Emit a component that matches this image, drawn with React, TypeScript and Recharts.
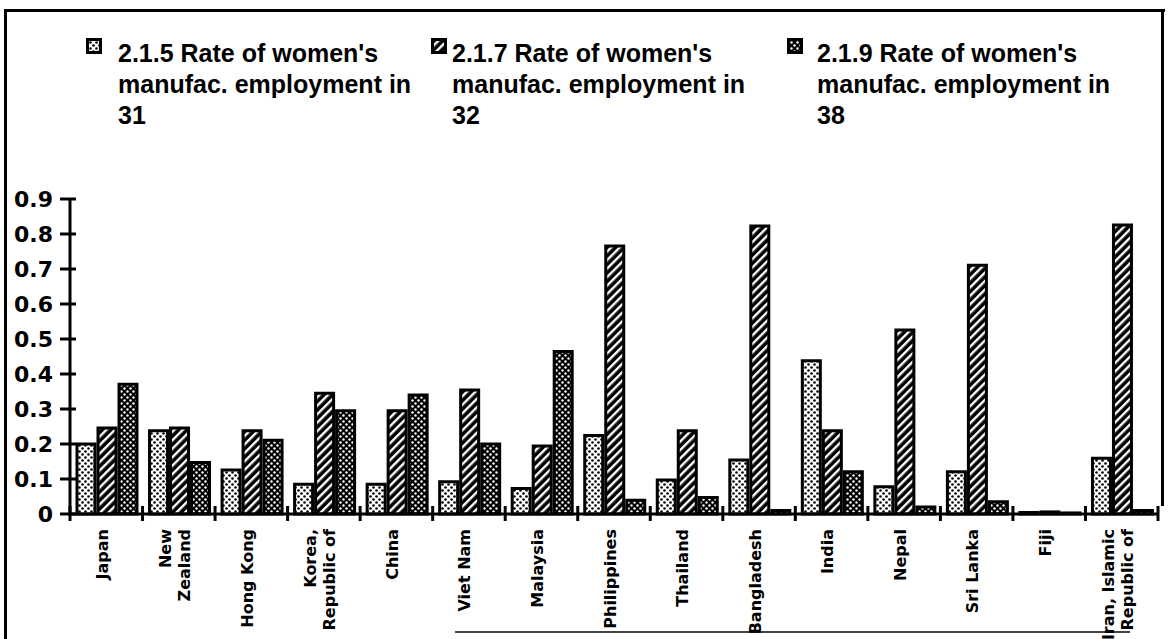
import { Bar, BarChart, XAxis, YAxis } from "recharts";

const countries = [
  "Japan",
  "New\nZealand",
  "Hong Kong",
  "Korea,\nRepublic of",
  "China",
  "Viet Nam",
  "Malaysia",
  "Philippines",
  "Thailand",
  "Bangladesh",
  "India",
  "Nepal",
  "Sri Lanka",
  "Fiji",
  "Iran, Islamic\nRepublic of",
];

const rate31 = [0.2, 0.238, 0.126, 0.085, 0.085, 0.092, 0.073, 0.224, 0.097, 0.154, 0.438, 0.078, 0.121, 0.004, 0.159];
const rate32 = [0.246, 0.246, 0.238, 0.345, 0.295, 0.354, 0.194, 0.766, 0.238, 0.823, 0.238, 0.526, 0.711, 0.006, 0.826];
const rate38 = [0.371, 0.147, 0.211, 0.295, 0.34, 0.2, 0.464, 0.039, 0.047, 0.01, 0.121, 0.02, 0.035, 0.003, 0.01];

const yTicks = [0, 0.1, 0.2, 0.3, 0.4, 0.5, 0.6, 0.7, 0.8, 0.9];
const yLabels = ["0", "0.1", "0.2", "0.3", "0.4", "0.5", "0.6", "0.7", "0.8", "0.9"];

const legendLines = [
  ["2.1.5 Rate of women's", "manufac. employment in", "31"],
  ["2.1.7 Rate of women's", "manufac. employment in", "32"],
  ["2.1.9 Rate of women's", "manufac. employment in", "38"],
];

const patternIds = ["pat31", "pat32", "pat38"];

const data = countries.map((name, i) => ({
  name,
  r31: rate31[i],
  r32: rate32[i],
  r38: rate38[i],
}));

const LABEL_FONT = "'DejaVu Sans', Verdana, sans-serif";

function Patterns() {
  return (
    <svg width={0} height={0} style={{ position: "absolute" }}>
      <defs>
        <pattern id="pat31" width={6} height={6} patternUnits="userSpaceOnUse">
          <rect width={6} height={6} fill="#fff" />
          <circle cx={1.5} cy={1.5} r={1.3} fill="#000" />
          <circle cx={4.5} cy={4.5} r={1.3} fill="#000" />
        </pattern>
        <pattern
          id="pat32"
          width={6}
          height={6}
          patternUnits="userSpaceOnUse"
          patternTransform="rotate(45)"
        >
          <rect width={6} height={6} fill="#000" />
          <rect x={0} width={2.4} height={6} fill="#fff" />
        </pattern>
        <pattern id="pat38" width={6} height={6} patternUnits="userSpaceOnUse">
          <rect width={6} height={6} fill="#000" />
          <circle cx={1.5} cy={1.5} r={1.2} fill="#fff" />
          <circle cx={4.5} cy={4.5} r={1.2} fill="#fff" />
        </pattern>
      </defs>
    </svg>
  );
}

function XTick(props: any) {
  const { x, y, payload, index, visibleTicksCount, width } = props;
  const half = payload.offset ?? width / visibleTicksCount / 2;
  const lines = String(payload.value).split("\n");
  const top = y + 15;
  const n = lines.length;
  return (
    <g>
      <line x1={x - half} x2={x - half} y1={y - 8} y2={y + 7} stroke="#000" strokeWidth={3} />
      {index === visibleTicksCount - 1 ? (
        <line x1={x + half} x2={x + half} y1={y - 8} y2={y + 7} stroke="#000" strokeWidth={3} />
      ) : null}
      {lines.map((ln, i) => {
        const cx = x - 4 + (i - (n - 1) / 2) * 19;
        return (
          <text
            key={i}
            x={cx}
            y={top}
            transform={`rotate(-90 ${cx} ${top})`}
            textAnchor="end"
            dominantBaseline="central"
            style={{ fontFamily: LABEL_FONT, fontWeight: 700, fontSize: 16, fill: "#000" }}
          >
            {ln}
          </text>
        );
      })}
    </g>
  );
}

function YTick(props: any) {
  const { x, y, index } = props;
  return (
    <g>
      <line x1={x - 10} x2={x + 6} y1={y} y2={y} stroke="#000" strokeWidth={3} />
      <text
        x={x - 17}
        y={y}
        textAnchor="end"
        dominantBaseline="central"
        style={{ fontFamily: LABEL_FONT, fontWeight: 700, fontSize: 22, fill: "#000" }}
      >
        {yLabels[index]}
      </text>
    </g>
  );
}

function LegendBlock() {
  const iconX = [86, 431, 787];
  const textX = [118, 452, 817];
  return (
    <>
      {legendLines.map((lines, i) => (
        <div key={i}>
          <svg
            width={16}
            height={16}
            style={{ position: "absolute", left: iconX[i], top: 38 }}
          >
            <rect x={1.5} y={1.5} width={13} height={13} fill={`url(#${patternIds[i]})`} stroke="#000" strokeWidth={3} />
          </svg>
          <div
            style={{
              position: "absolute",
              left: textX[i],
              top: 38,
              fontFamily: "'Liberation Sans', Arial, sans-serif",
              fontWeight: 700,
              fontSize: 25,
              lineHeight: "31px",
              color: "#000",
              whiteSpace: "nowrap",
            }}
          >
            {lines.map((l, j) => (
              <div key={j}>{l}</div>
            ))}
          </div>
        </div>
      ))}
    </>
  );
}

export default function App() {
  return (
    <div
      style={{
        position: "absolute",
        left: 0,
        top: 0,
        width: 1170,
        height: 639,
        background: "#fff",
        overflow: "hidden",
      }}
    >
      <Patterns />
      {/* frame */}
      <div style={{ position: "absolute", left: 4, top: 9, width: 3, height: 630, background: "#000" }} />
      <div style={{ position: "absolute", left: 4, top: 9, width: 1161, height: 3, background: "#000" }} />
      <div style={{ position: "absolute", left: 1161, top: 9, width: 3, height: 497, background: "#000" }} />
      <div style={{ position: "absolute", left: 455, top: 631, width: 675, height: 2, background: "#444" }} />

      <LegendBlock />

      <div style={{ position: "absolute", left: 0, top: 0 }}>
        <BarChart
          width={1170}
          height={639}
          data={data}
          margin={{ top: 199, right: 12, bottom: 15, left: 0 }}
          barCategoryGap={7}
          barGap={3}
        >
          <XAxis
            dataKey="name"
            interval={0}
            height={110}
            tickSize={0}
            tickMargin={0}
            tickLine={false}
            axisLine={{ stroke: "#000", strokeWidth: 3 }}
            tick={<XTick />}
          />
          <YAxis
            width={70}
            domain={[0, 0.9]}
            ticks={yTicks}
            interval={0}
            tickSize={0}
            tickMargin={0}
            tickLine={false}
            axisLine={{ stroke: "#000", strokeWidth: 3 }}
            tick={<YTick />}
          />
          <Bar dataKey="r31" fill="url(#pat31)" stroke="#000" strokeWidth={3} isAnimationActive={false} />
          <Bar dataKey="r32" fill="url(#pat32)" stroke="#000" strokeWidth={3} isAnimationActive={false} />
          <Bar dataKey="r38" fill="url(#pat38)" stroke="#000" strokeWidth={3} isAnimationActive={false} />
        </BarChart>
      </div>
    </div>
  );
}
